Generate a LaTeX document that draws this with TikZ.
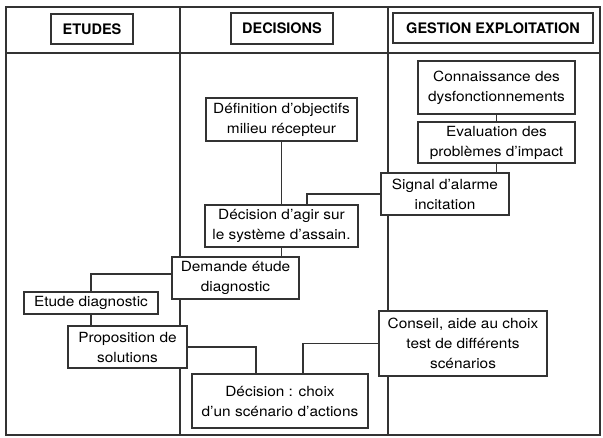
\documentclass[tikz,border=0pt]{standalone}
\usepackage{fontspec}
\setmainfont[FakeStretch=1.1]{TeX Gyre Heros}
\newfontfamily\titrefont{TeX Gyre Heros}
\begin{document}
\begin{tikzpicture}[x=1pt, y=-1pt,
  cadre/.style={line width=1.1pt, black!80},
  boite/.style={draw, line width=1.2pt, black!80, fill=white, text=black, align=center,
    inner sep=0pt, font=\fontsize{14}{20}\selectfont},
  titre/.style={draw, line width=1.2pt, black!80, fill=white, text=black,
    inner sep=0pt, font=\titrefont\fontsize{14.5}{17}\selectfont\bfseries},
  lien/.style={line width=1.1pt, black!80}]
  \useasboundingbox (0,0) rectangle (603,437);

  % Colonnes du tableau
  \draw[cadre] (6,7) rectangle (600,435);
  \draw[cadre] (6,53) -- (600,53);
  \draw[cadre] (180,7) -- (180,435);
  \draw[cadre] (388,7) -- (388,435);

  % En-tetes
  \node[titre, minimum width=82, minimum height=30] (etudes) at (92,29) {ETUDES};
  \node[titre, minimum width=102, minimum height=31] (decisions) at (282,28.5) {DECISIONS};
  \node[titre, minimum width=200, minimum height=30] (gestion) at (493,28) {GESTION EXPLOITATION};

  % Gestion exploitation
  \node[boite, minimum width=157, minimum height=53] (conn) at (496.5,87.5) {Connaissance des\\dysfonctionnements};
  \node[boite, minimum width=157, minimum height=41] (eval) at (496.5,142.5) {Evaluation des\\problèmes d'impact};
  \node[boite, minimum width=128, minimum height=42] (signal) at (445,194) {Signal d'alarme\\incitation};
  \node[boite, minimum width=168, minimum height=65] (conseil) at (463,343.5) {Conseil, aide au choix\\test de différents\\scénarios};

  % Decisions
  \node[boite, minimum width=151, minimum height=43] (objectifs) at (281.5,119.5) {Définition d'objectifs\\milieu récepteur};
  \node[boite, minimum width=153, minimum height=42] (agir) at (281.5,226) {Décision d'agir sur\\le système d'assain.};
  \node[boite, minimum width=127, minimum height=42] (demande) at (235.5,278) {Demande étude\\diagnostic};
  \node[boite, minimum width=176, minimum height=54] (choix) at (280,401) {Décision : choix\\d'un scénario d'actions};

  % Etudes
  \node[boite, minimum width=134, minimum height=22] (diag) at (91,303) {Etude diagnostic};
  \node[boite, minimum width=119, minimum height=42] (propo) at (127.5,347) {Proposition de\\solutions};

  % Liaisons
  \coordinate (a1) at (307,0);
  \coordinate (a2) at (256,0);
  \coordinate (a3) at (303,0);
  \draw[lien] (conn.south) -- (eval.north);
  \draw[lien] (eval.south) -- (eval.south |- signal.north);
  \draw[lien] (signal.west) -| (a1 |- agir.north);
  \draw[lien] (objectifs.south) -- (objectifs.south |- agir.north);
  \draw[lien] (agir.south) -- (agir.south |- demande.north);
  \draw[lien] ([yshift=4pt]demande.west) -| (diag.north);
  \draw[lien] (diag.south) -- (diag.south |- propo.north);
  \draw[lien] (propo.east) -| (a2 |- choix.north);
  \draw[lien] (conseil.west) -| (a3 |- choix.north);
\end{tikzpicture}
\end{document}
